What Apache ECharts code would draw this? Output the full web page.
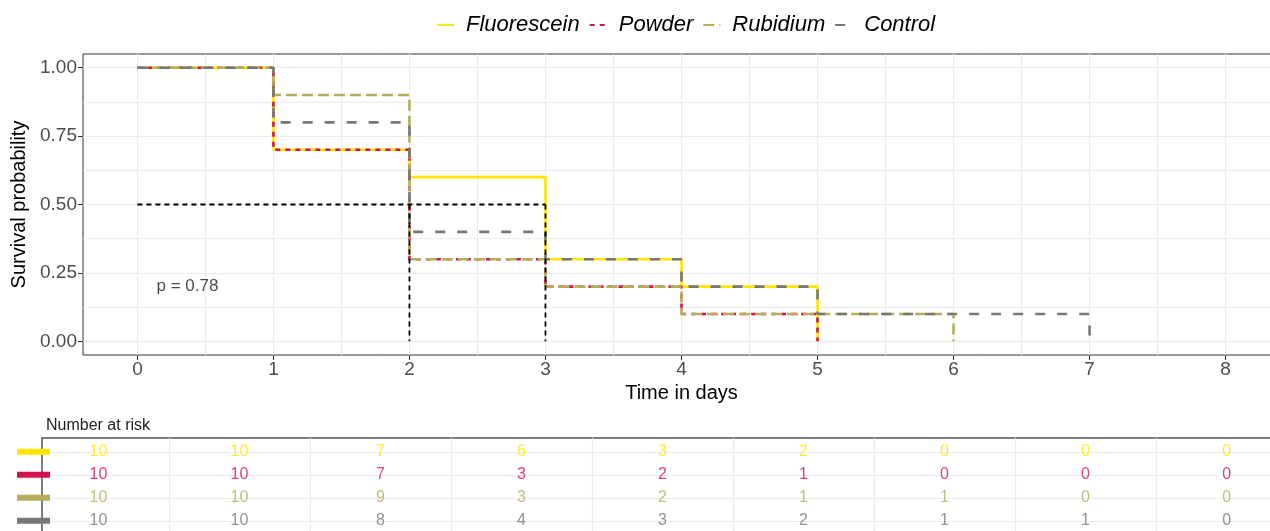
<!DOCTYPE html>
<html>
<head>
<meta charset="utf-8">
<script src="https://cdn.jsdelivr.net/npm/echarts@6/dist/echarts.min.js"></script>
<style>
  html, body { margin: 0; padding: 0; background: #fff; overflow: hidden; }
  #chart { width: 1290px; height: 545px; }
</style>
</head>
<body>
<div id="chart"></div>
<script>
// ---- data ----
const groups = ['Fluorescein', 'Powder', 'Rubidium', 'Control'];
const colors = ['#FFE600', '#D3134F', '#B3AD5C', '#777777'];

// Kaplan-Meier step points [time, survival]
const survFluorescein = [[0, 1.0], [1, 0.7], [2, 0.6], [3, 0.3], [4, 0.2], [5, 0.0]];
const survPowder      = [[0, 1.0], [1, 0.7], [2, 0.3], [3, 0.2], [4, 0.1], [5, 0.0]];
const survRubidium    = [[0, 1.0], [1, 0.9], [2, 0.3], [3, 0.2], [4, 0.1], [6, 0.0]];
const survControl     = [[0, 1.0], [1, 0.8], [2, 0.4], [3, 0.3], [4, 0.2], [5, 0.1], [7, 0.0]];
const survCurves = [survFluorescein, survPowder, survRubidium, survControl];

// median survival times
const medians = [3, 2, 2, 2];
const pValue = '0.78';

// number at risk at times 0..8
const riskTimes = [0, 1, 2, 3, 4, 5, 6, 7, 8];
const riskFluorescein = [10, 10, 7, 6, 3, 2, 0, 0, 0];
const riskPowder      = [10, 10, 7, 3, 2, 1, 0, 0, 0];
const riskRubidium    = [10, 10, 9, 3, 2, 1, 1, 0, 0];
const riskControl     = [10, 10, 8, 4, 3, 2, 1, 1, 0];
const riskRows = [riskFluorescein, riskPowder, riskRubidium, riskControl];

const xTicks = [0, 1, 2, 3, 4, 5, 6, 7, 8];
const xMinor = [0.5, 1.5, 2.5, 3.5, 4.5, 5.5, 6.5, 7.5];
const yTicks = [0, 0.25, 0.5, 0.75, 1.0];
const yMinor = [0.125, 0.375, 0.625, 0.875];

// ---- styles ----
const FONT = "'Liberation Sans', Arial, Helvetica, sans-serif";
const dashes = ['solid', [5, 5], [11, 5], [10, 12]];
const gridColor = '#EBEBEB';

const chart = echarts.init(document.getElementById('chart'), null, { renderer: 'canvas' });

const series = [];
groups.forEach((g, i) => {
  series.push({
    name: g,
    type: 'line',
    step: 'end',
    xAxisIndex: 0, yAxisIndex: 0,
    data: survCurves[i],
    symbol: 'none',
    lineStyle: { color: colors[i], width: 2.6, type: dashes[i], cap: 'butt' },
    itemStyle: { color: colors[i] },
    z: 3 + i,
    silent: true
  });
});

// median lines
const maxMedian = Math.max.apply(null, medians);
const medLineStyle = { color: '#000', width: 1.8, type: [5, 4] };
series.push({
  type: 'line', xAxisIndex: 0, yAxisIndex: 0, symbol: 'none', z: 8, silent: true,
  data: [[0, 0.5], [maxMedian, 0.5]], lineStyle: medLineStyle
});
Array.from(new Set(medians)).forEach(m => {
  series.push({
    type: 'line', xAxisIndex: 0, yAxisIndex: 0, symbol: 'none', z: 8, silent: true,
    data: [[m, 0.5], [m, 0]], lineStyle: medLineStyle
  });
});

// p-value annotation
series.push({
  type: 'scatter', xAxisIndex: 0, yAxisIndex: 0, symbolSize: 0, silent: true,
  data: [[0.14, 0.2]],
  label: { show: true, position: 'right', distance: 0, formatter: 'p = ' + pValue,
           fontFamily: FONT, fontSize: 17, color: '#1a1a1a' }
});

// risk table text
groups.forEach((g, i) => {
  series.push({
    name: 'risk-' + g,
    type: 'scatter', xAxisIndex: 2, yAxisIndex: 2, symbolSize: 0, silent: true,
    data: riskTimes.map((t, k) => [t, i, riskRows[i][k]]),
    label: { show: true, position: 'inside', formatter: p => String(p.value[2]),
             fontFamily: FONT, fontSize: 16, color: colors[i] }
  });
});

const rich = {};
groups.forEach((g, i) => { rich['g' + i] = { width: 33, height: 6, backgroundColor: colors[i] }; });

const hiddenLine = { show: false, onZero: false };

const option = {
  animation: false,
  backgroundColor: '#fff',
  textStyle: { fontFamily: FONT },
  legend: {
    data: groups,
    top: 9,
    left: 431,
    itemWidth: 17,
    itemHeight: 14,
    itemGap: 9,
    itemStyle: { opacity: 0 },
    textStyle: { fontFamily: FONT, fontSize: 22, fontStyle: 'italic', color: '#000', padding: [0, 0, 0, 7] }
  },
  grid: [
    { left: 83, top: 54, width: 1197, height: 301, show: true, borderColor: '#333', borderWidth: 1, backgroundColor: 'transparent', containLabel: false },
    { left: 42, top: 438, width: 1241, height: 96.6, show: true, borderColor: '#555', borderWidth: 1.5, backgroundColor: 'transparent', containLabel: false }
  ],
  title: {
    text: 'Number at risk', left: 41, top: 413,
    textStyle: { fontFamily: FONT, fontSize: 16, fontWeight: 'normal', color: '#222' }
  },
  xAxis: [
    {
      gridIndex: 0, type: 'value', min: -0.4, max: 8.4, interval: 0.4,
      axisLine: hiddenLine,
      axisTick: { show: true, customValues: xTicks, length: 5, lineStyle: { color: '#333' } },
      axisLabel: { customValues: xTicks, fontSize: 19, color: '#4D4D4D', margin: 5, fontFamily: FONT },
      splitLine: { show: true, lineStyle: { color: gridColor, width: 1.2 } },
      name: 'Time in days', nameLocation: 'middle', nameGap: 26,
      nameTextStyle: { fontSize: 20, color: '#000', fontFamily: FONT }
    },
    {
      gridIndex: 0, type: 'value', min: -0.4, max: 8.4, interval: 0.4,
      axisLine: hiddenLine,
      axisTick: { show: false, customValues: xMinor },
      axisLabel: { show: false },
      splitLine: { show: true, lineStyle: { color: gridColor, width: 1 } }
    },
    {
      gridIndex: 1, type: 'value', min: -0.4, max: 8.4, interval: 0.4,
      axisLine: hiddenLine,
      axisTick: { show: false, customValues: xMinor },
      axisLabel: { show: false },
      splitLine: { show: true, lineStyle: { color: gridColor, width: 1.2 } }
    }
  ],
  yAxis: [
    {
      gridIndex: 0, type: 'value', min: -0.05, max: 1.05, interval: 0.05,
      axisLine: hiddenLine,
      axisTick: { show: true, customValues: yTicks, length: 5, lineStyle: { color: '#333' } },
      axisLabel: { customValues: yTicks, fontSize: 19, color: '#4D4D4D', margin: 6, fontFamily: FONT,
                   formatter: v => Number(v).toFixed(2) },
      splitLine: { show: true, lineStyle: { color: gridColor, width: 1.2 } },
      name: 'Survival probability', nameLocation: 'middle', nameGap: 44, nameRotate: 90,
      nameTextStyle: { fontSize: 20, color: '#000', fontFamily: FONT }
    },
    {
      gridIndex: 0, type: 'value', min: -0.05, max: 1.05, interval: 0.05,
      axisLine: hiddenLine,
      axisTick: { show: false, customValues: yMinor },
      axisLabel: { show: false },
      splitLine: { show: true, lineStyle: { color: gridColor, width: 1 } }
    },
    {
      gridIndex: 1, type: 'value', min: -0.6, max: 3.6, interval: 0.6, inverse: true,
      axisLine: hiddenLine,
      axisTick: { show: false, customValues: [0, 1, 2, 3] },
      axisLabel: { show: true, customValues: [0, 1, 2, 3], margin: -8,
                   formatter: v => '{g' + Math.round(v) + '|}', rich: rich },
      splitLine: { show: true, lineStyle: { color: gridColor, width: 1.2 } }
    }
  ],
  series: series
};

chart.setOption(option);
</script>
</body>
</html>
